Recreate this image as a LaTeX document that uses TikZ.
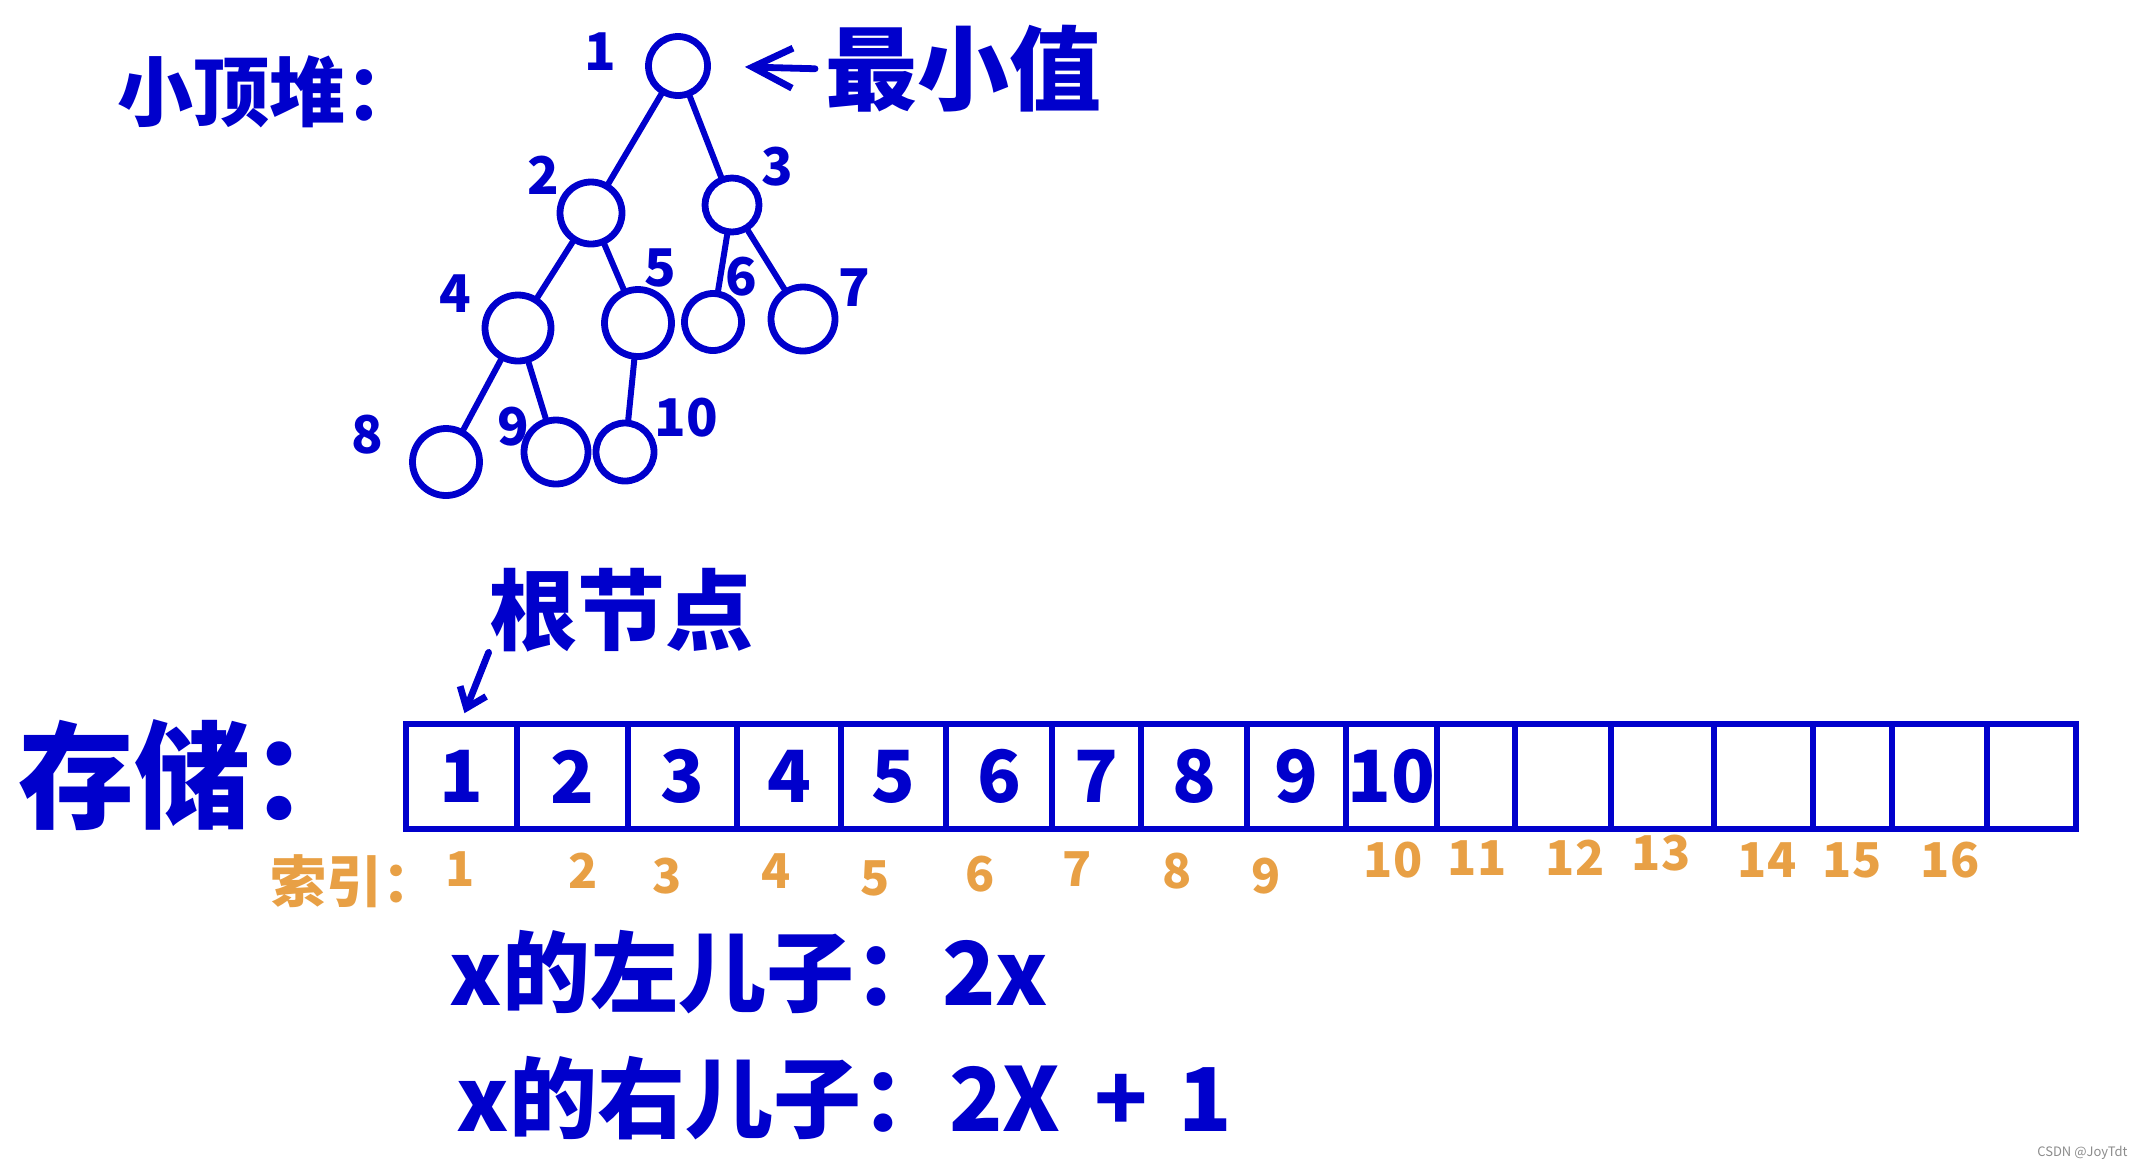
\documentclass[tikz,border=0pt]{standalone}
\usepackage{fontspec}
\setmainfont{Noto Sans CJK SC}
\usepackage{tikz}
\usetikzlibrary{positioning}
\usetikzlibrary{arrows.meta}
\definecolor{penblue}{RGB}{0,0,204}
\definecolor{penorange}{RGB}{232,160,69}
\newcommand{\penfont}[1]{\fontsize{#1}{#1}\selectfont\bfseries}
\tikzset{pen/.style={draw=penblue,line width=3.4pt,line cap=round},
  heapnode/.style={circle,draw=penblue,line width=3.4pt,inner sep=0pt},
  heapline/.style={pen,line width=3pt},
  hand/.style={text=penblue,inner sep=0pt},
  treelab/.style={hand,font=\penfont{26pt}},
  cell/.style={draw=penblue,line width=3.4pt,text=penblue,inner sep=0pt,minimum height=52.5pt,font=\penfont{36pt}},
  idx/.style={text=penorange,inner sep=0pt,font=\penfont{24pt}}}

\begin{document}
\begin{tikzpicture}[x=0.5pt,y=-0.5pt]
\useasboundingbox (0,0) rectangle (2135,1169);

\node (title) [hand,anchor=west,font=\penfont{38pt}] at (117,92) {小顶堆：};

\foreach \n/\x/\y/\s in {1/678/66/29.5pt, 2/591/213/31pt, 3/732/205/27pt, 4/518/328/33pt, 5/638/323/33.5pt,
  6/713/322/28.5pt, 7/803/319/32pt, 8/446/462/33.5pt, 9/556/452/32pt, 10/625/452/29pt}
  \node (n\n) [heapnode,minimum size=\s] at (\x,\y) {};
\foreach \a/\b in {1/2,1/3,2/4,2/5,3/6,3/7,4/8,4/9,5/10}
  \draw [heapline] (n\a) -- (n\b);
\foreach \n/\x/\y in {1/600/52, 2/543/175, 3/777/167, 4/455/294, 5/660/268,
  6/741/277, 7/854/288, 8/367/435, 9/513/427, 10/686/418}
  \node (l\n) [treelab] at (\x,\y) {\n};

\node (minv) [hand,anchor=west,font=\penfont{46pt}] at (825,69) {最小值};
\draw [pen,-{Straight Barb[length=20pt,width=20pt]},shorten <=5pt,shorten >=17pt] (minv.west) -- (n1.east);

\node (gen) [hand,font=\penfont{44pt}] at (621,610) {根节点};
\node (store) [hand,anchor=west,font=\penfont{58pt}] at (18,775) {存储：};

\foreach \i/\xa/\xb/\v in {1/406/517/1, 2/517/628/2, 3/628/737/3, 4/737/841/4, 5/841/946/5,
  6/946/1052/6, 7/1052/1141/7, 8/1141/1247/8, 9/1247/1346/9, 10/1346/1437/10,
  11/1437/1515/{}, 12/1515/1611/{}, 13/1611/1714/{}, 14/1714/1813/{}, 15/1813/1892/{},
  16/1892/1987/{}, 17/1987/2076/{}}
  \node (c\i) [cell,minimum width={(\xb-\xa)*0.5pt}] at ({(\xa+\xb)/2},776.5) {\v};

\draw [pen,-{Straight Barb[length=9pt,width=14pt]},shorten >=4pt] (gen.south west) -- (c1.north);

\node (idxlab) [idx,anchor=west,font=\penfont{28pt}] at (270,881) {索引：};
\foreach \i/\x/\y in {1/460/869, 2/583/871, 3/667/876, 4/776/871, 5/875/878, 6/980/874,
  7/1077/869, 8/1177/871, 9/1266/876, 10/1393/860, 11/1477/858, 12/1575/858,
  13/1661/853, 14/1767/860, 15/1852/860, 16/1950/860}
  \node (i\i) [idx] at (\x,\y) {\i};

\node (lchild) [hand,anchor=west,font=\penfont{44pt}] at (449,972) {x的左儿子：2x};
\node (rchild) [hand,anchor=west,font=\penfont{44pt}] at (456,1098) {x的右儿子：2X\hspace{17pt}+\hspace{15pt}1};

\node (mark) [anchor=east,text=black!45,inner sep=0pt,font=\fontsize{6.5pt}{6.5pt}\selectfont] at (2128,1153) {CSDN @JoyTdt};
\end{tikzpicture}
\end{document}
